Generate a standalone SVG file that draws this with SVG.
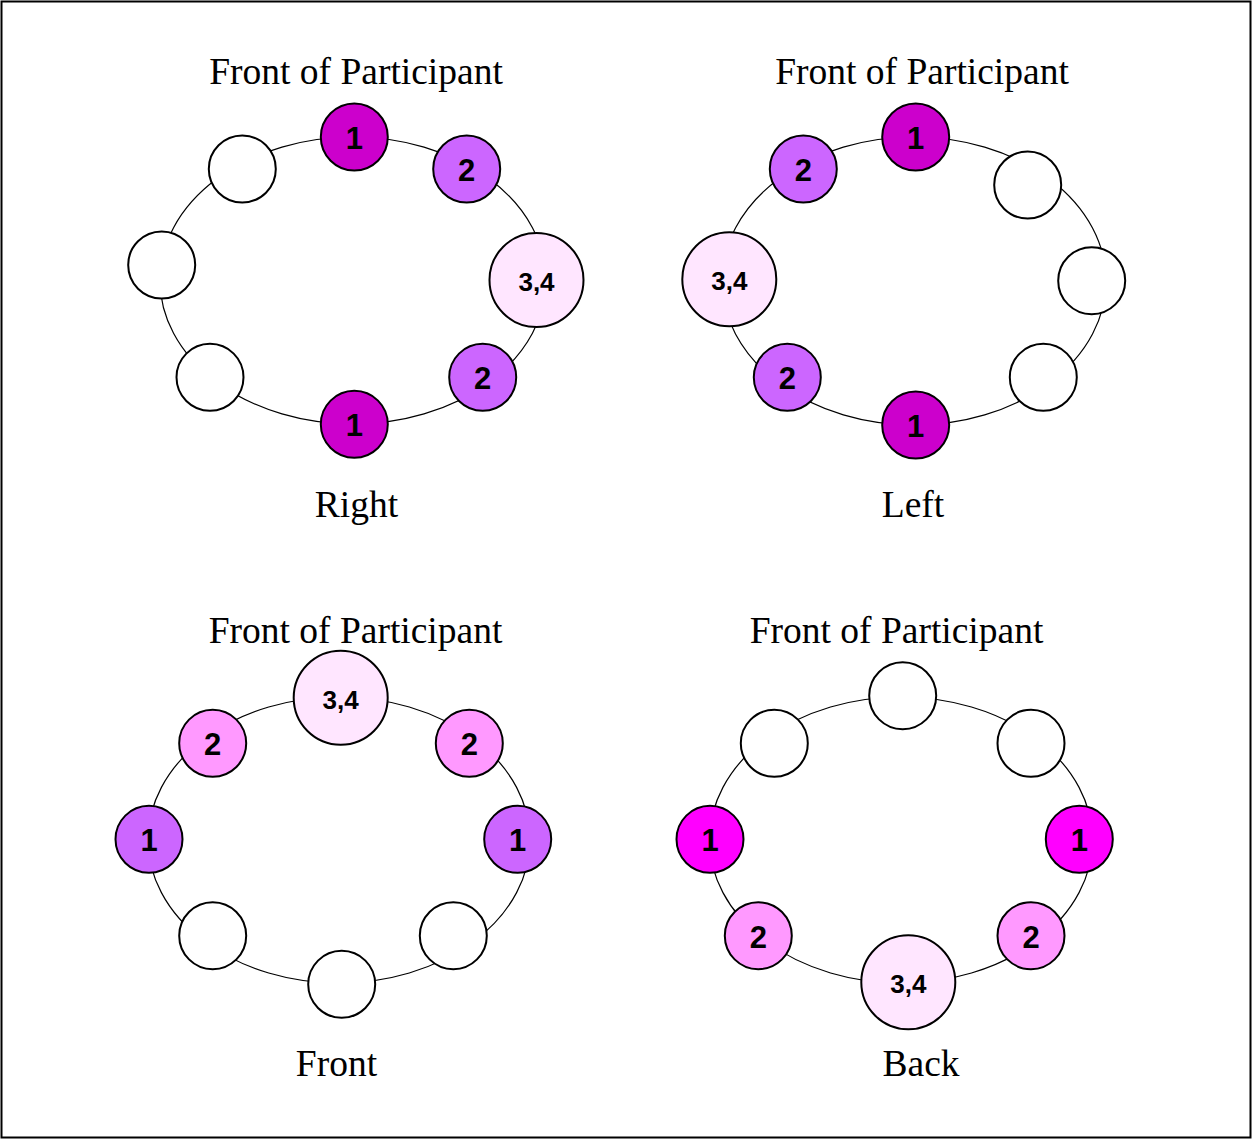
<svg xmlns="http://www.w3.org/2000/svg" width="1252" height="1139" viewBox="0 0 1252 1139">
<style>
.ring{fill:none;stroke:#000;stroke-width:1.2}
.s{stroke:#000;stroke-width:2}
.e{fill:#fff}
.c1{fill:#CC00CC}
.c2{fill:#CC66FF}
.c3{fill:#FF99FF}
.c4{fill:#FF00FF}
.big{fill:#FFE6FF}
.n{font-family:"Liberation Sans",Arial,sans-serif;font-weight:bold;font-size:31px;text-anchor:middle;fill:#000}
.nb{font-family:"Liberation Sans",Arial,sans-serif;font-weight:bold;font-size:26px;text-anchor:middle;fill:#000}
.t{font-family:"Liberation Serif","Times New Roman",serif;font-size:37.5px;text-anchor:middle;fill:#000}
</style>
<rect x="0" y="0" width="1252" height="1139" fill="#fff"/>
<rect x="1.5" y="1.5" width="1249" height="1136" fill="none" stroke="#000" stroke-width="2"/>

<g id="connectors">
<ellipse class="ring" cx="353" cy="280.5" rx="193" ry="143.5"/>
<ellipse class="ring" cx="914" cy="281" rx="192" ry="144"/>
<ellipse class="ring" cx="339" cy="840" rx="191" ry="143"/>
<ellipse class="ring" cx="901" cy="840" rx="191.5" ry="143"/>
</g>

<g id="labels">
<text class="t" x="356" y="84">Front of Participant</text>
<text class="t" x="922" y="84">Front of Participant</text>
<text class="t" x="355.5" y="643">Front of Participant</text>
<text class="t" x="896.5" y="643">Front of Participant</text>
<text class="t" x="356.5" y="517">Right</text>
<text class="t" x="913" y="517">Left</text>
<text class="t" x="336.5" y="1076">Front</text>
<text class="t" x="921" y="1076">Back</text>
</g>

<g id="right-panel">
<g id="r1"><circle class="s c1" cx="354.3" cy="137" r="33.5"/><text class="n" x="354.3" y="149">1</text></g>
<g id="r2"><circle class="s c2" cx="466.7" cy="169" r="33.5"/><text class="n" x="466.7" y="181">2</text></g>
<g id="r3"><circle class="s big" cx="536.5" cy="280" r="47"/><text class="nb" x="536.5" y="291">3,4</text></g>
<g id="r4"><circle class="s c2" cx="482.7" cy="377.3" r="33.5"/><text class="n" x="482.7" y="389.3">2</text></g>
<g id="r5"><circle class="s c1" cx="354.3" cy="424.3" r="33.5"/><text class="n" x="354.3" y="436.3">1</text></g>
<g id="r6"><circle class="s e" cx="210" cy="377.3" r="33.5"/></g>
<g id="r7"><circle class="s e" cx="161.7" cy="265" r="33.5"/></g>
<g id="r8"><circle class="s e" cx="242.3" cy="169" r="33.5"/></g>
</g>

<g id="left-panel">
<g id="l1"><circle class="s c1" cx="915.7" cy="137" r="33.5"/><text class="n" x="915.7" y="149">1</text></g>
<g id="l2"><circle class="s c2" cx="803.3" cy="169" r="33.5"/><text class="n" x="803.3" y="181">2</text></g>
<g id="l3"><circle class="s big" cx="729.3" cy="279.3" r="47"/><text class="nb" x="729.3" y="290.3">3,4</text></g>
<g id="l4"><circle class="s c2" cx="787.3" cy="377.3" r="33.5"/><text class="n" x="787.3" y="389.3">2</text></g>
<g id="l5"><circle class="s c1" cx="915.7" cy="425" r="33.5"/><text class="n" x="915.7" y="437">1</text></g>
<g id="l6"><circle class="s e" cx="1043.3" cy="377.3" r="33.5"/></g>
<g id="l7"><circle class="s e" cx="1091.7" cy="280.7" r="33.5"/></g>
<g id="l8"><circle class="s e" cx="1027.7" cy="185" r="33.5"/></g>
</g>

<g id="front-panel">
<g id="f1"><circle class="s big" cx="340.7" cy="697.7" r="47"/><text class="nb" x="340.7" y="708.7">3,4</text></g>
<g id="f2"><circle class="s c3" cx="212.7" cy="743.3" r="33.5"/><text class="n" x="212.7" y="755.3">2</text></g>
<g id="f3"><circle class="s c3" cx="469.3" cy="743.3" r="33.5"/><text class="n" x="469.3" y="755.3">2</text></g>
<g id="f4"><circle class="s c2" cx="149" cy="839.3" r="33.5"/><text class="n" x="149" y="851.3">1</text></g>
<g id="f5"><circle class="s c2" cx="517.7" cy="839.3" r="33.5"/><text class="n" x="517.7" y="851.3">1</text></g>
<g id="f6"><circle class="s e" cx="212.7" cy="935.7" r="33.5"/></g>
<g id="f7"><circle class="s e" cx="341.7" cy="984.3" r="33.5"/></g>
<g id="f8"><circle class="s e" cx="453.3" cy="935.7" r="33.5"/></g>
</g>

<g id="back-panel">
<g id="b1"><circle class="s e" cx="902.7" cy="695.7" r="33.5"/></g>
<g id="b2"><circle class="s e" cx="774.3" cy="743.3" r="33.5"/></g>
<g id="b3"><circle class="s e" cx="1031" cy="743.3" r="33.5"/></g>
<g id="b4"><circle class="s c4" cx="710" cy="839.3" r="33.5"/><text class="n" x="710" y="851.3">1</text></g>
<g id="b5"><circle class="s c4" cx="1079.3" cy="839.3" r="33.5"/><text class="n" x="1079.3" y="851.3">1</text></g>
<g id="b6"><circle class="s c3" cx="758.3" cy="935.7" r="33.5"/><text class="n" x="758.3" y="947.7">2</text></g>
<g id="b7"><circle class="s c3" cx="1031" cy="935.7" r="33.5"/><text class="n" x="1031" y="947.7">2</text></g>
<g id="b8"><circle class="s big" cx="908.3" cy="982.3" r="47"/><text class="nb" x="908.3" y="993.3">3,4</text></g>
</g>
</svg>
